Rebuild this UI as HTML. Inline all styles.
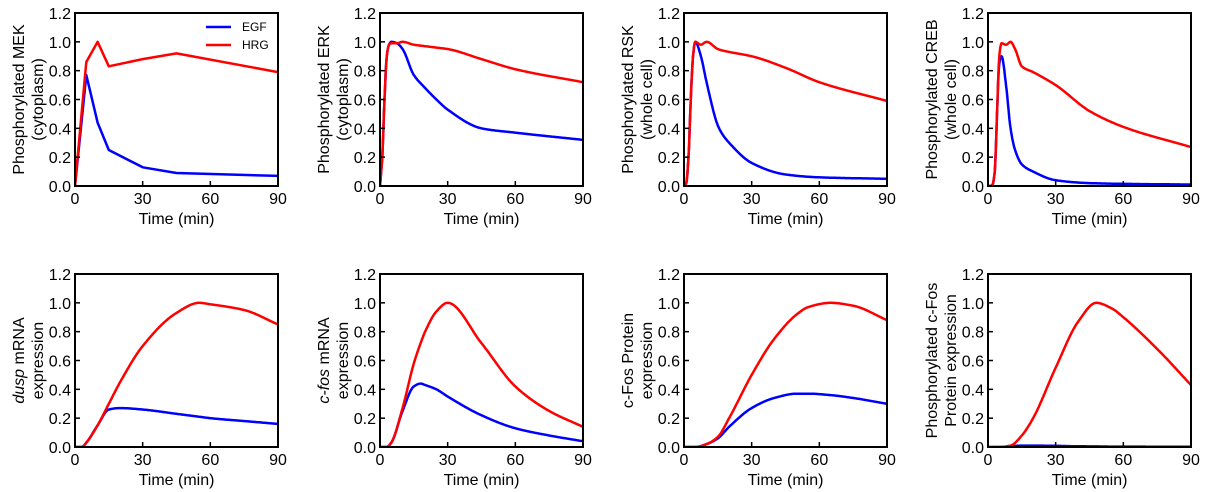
<!DOCTYPE html>
<html><head><meta charset="utf-8"><style>
body{margin:0;background:#fff}
svg{display:block;font-family:"Liberation Sans",Arial,sans-serif}
</style></head><body>
<svg id="c" width="1207" height="492"></svg>
<script>
const mekT=[0,5,10,15,30,45,90];
const mekEGF=[0,0.77,0.44,0.25,0.13,0.09,0.07];
const mekHRG=[0,0.86,1.0,0.83,0.88,0.92,0.79];
const erkT=[0,1,2,3,4,5,7.5,10,15,20,25,30,45,60,90];
const erkEGF=[0,0.2,0.6,0.9,0.98,1.0,0.99,0.95,0.77,0.68,0.6,0.53,0.40,0.37,0.32];
const erkHRG=[0,0.2,0.6,0.9,0.98,0.99,0.99,1.0,0.98,0.97,0.96,0.95,0.88,0.81,0.72];
const rskT=[0,1,2,3,4,5,7.5,10,15,17,20,30,45,60,90];
const rskEGF=[0,0.02,0.2,0.6,0.9,1.0,0.9,0.72,0.42,0.36,0.3,0.16,0.08,0.06,0.05];
const rskHRG=[0,0.02,0.2,0.6,0.9,1.0,0.98,1.0,0.95,0.94,0.93,0.9,0.82,0.72,0.59];
const crebT=[0,1,2,3,4,5,6,8,10,12,15,20,30,45,60,90];
const crebEGF=[0,0,0.01,0.1,0.5,0.85,0.9,0.7,0.4,0.25,0.15,0.1,0.04,0.02,0.015,0.01];
const crebHRG=[0,0,0.01,0.1,0.5,0.9,0.99,0.98,1.0,0.95,0.83,0.79,0.7,0.52,0.41,0.27];
const duspT=[0,3,5,10,15,20,30,45,55,60,75,90];
const duspEGF=[0,0,0.03,0.15,0.26,0.27,0.26,0.23,0.21,0.2,0.18,0.16];
const duspHRG=[0,0,0.03,0.15,0.3,0.45,0.7,0.93,1.0,0.99,0.95,0.85];
const cfosT=[0,3,5,10,15,18,20,25,30,45,60,75,90];
const cfosEGF=[0,0,0.03,0.25,0.42,0.44,0.43,0.4,0.35,0.22,0.13,0.08,0.04];
const cfosHRG=[0,0,0.03,0.27,0.58,0.72,0.8,0.94,1.0,0.72,0.42,0.25,0.14];
const protT=[0,5,10,15,20,30,40,50,55,65,75,90];
const protEGF=[0,0,0.02,0.06,0.14,0.27,0.34,0.37,0.37,0.36,0.34,0.30];
const protHRG=[0,0,0.02,0.07,0.2,0.5,0.75,0.92,0.97,1.0,0.98,0.88];
const pfosT=[0,5,10,15,20,30,40,48,55,60,75,90];
const pfosEGF=[0,0,0.005,0.01,0.01,0.008,0.005,0.004,0.003,0.003,0.002,0.001];
const pfosHRG=[0,0,0.01,0.08,0.2,0.55,0.87,1.0,0.96,0.9,0.68,0.43];
const xTicks=[0,30,60,90];
const yTicks=[0,0.2,0.4,0.6,0.8,1.0,1.2];

const panels=[
 {name:'mek',l:75,t:13,T:mekT,e:mekEGF,h:mekHRG,smooth:false,lab:['Phosphorylated MEK','(cytoplasm)'],legend:true},
 {name:'erk',l:380,t:13,T:erkT,e:erkEGF,h:erkHRG,smooth:true,lab:['Phosphorylated ERK','(cytoplasm)']},
 {name:'rsk',l:684,t:13,T:rskT,e:rskEGF,h:rskHRG,smooth:true,lab:['Phosphorylated RSK','(whole cell)']},
 {name:'creb',l:988,t:13,T:crebT,e:crebEGF,h:crebHRG,smooth:true,lab:['Phosphorylated CREB','(whole cell)']},
 {name:'dusp',l:75,t:274,T:duspT,e:duspEGF,h:duspHRG,smooth:true,lab:['<tspan font-style="italic">dusp</tspan> mRNA','expression']},
 {name:'cfos-mrna',l:380,t:274,T:cfosT,e:cfosEGF,h:cfosHRG,smooth:true,lab:['<tspan font-style="italic">c-fos</tspan> mRNA','expression']},
 {name:'cfos-protein',l:684,t:274,T:protT,e:protEGF,h:protHRG,smooth:true,lab:['c-Fos Protein','expression']},
 {name:'pcfos',l:988,t:274,T:pfosT,e:pfosEGF,h:pfosHRG,smooth:true,lab:['Phosphorylated c-Fos','Protein expression']}
];
const W=203,H=173;
const svg=document.getElementById('c');
let out='';
// monotone cubic (Fritsch-Carlson) interpolation in data space
function monotone(xs,ys){
  const n=xs.length,d=[],m=new Array(n);
  for(let i=0;i<n-1;i++)d.push((ys[i+1]-ys[i])/(xs[i+1]-xs[i]));
  m[0]=d[0];m[n-1]=d[n-2];
  for(let i=1;i<n-1;i++){
    if(d[i-1]*d[i]<=0)m[i]=0;
    else{const h0=xs[i]-xs[i-1],h1=xs[i+1]-xs[i];const w1=2*h1+h0,w2=h1+2*h0;m[i]=(w1+w2)/(w1/d[i-1]+w2/d[i]);}
  }
  return t=>{
    let i=0;while(i<n-2&&t>xs[i+1])i++;
    const h=xs[i+1]-xs[i],s=(t-xs[i])/h;
    const h00=2*s*s*s-3*s*s+1,h10=s*s*s-2*s*s+s,h01=-2*s*s*s+3*s*s,h11=s*s*s-s*s;
    return h00*ys[i]+h10*h*m[i]+h01*ys[i+1]+h11*h*m[i+1];
  };
}
function path(T,V,X,Y,smooth){
  if(!smooth) return 'M'+T.map((t,i)=>X(t).toFixed(1)+','+Y(V[i]).toFixed(1)).join('L');
  const f=monotone(T,V);const pts=[];
  for(let t=T[0];t<=T[T.length-1]+1e-9;t+=0.25)pts.push(X(t).toFixed(1)+','+Y(f(t)).toFixed(1));
  return 'M'+pts.join('L');
}
panels.forEach(P=>{
  const X=t=>P.l+t/90*W, Y=v=>P.t+H-v/1.2*H;
  out+=`<g>`;
  out+=`<clipPath id="cp-${P.name}"><rect x="${P.l}" y="${P.t}" width="${W}" height="${H}"/></clipPath>`;
  out+=`<g clip-path="url(#cp-${P.name})">`;
  out+=`<path d="${path(P.T,P.e,X,Y,P.smooth)}" fill="none" stroke="#0000ff" stroke-width="2.5" stroke-linejoin="round"/>`;
  out+=`<path d="${path(P.T,P.h,X,Y,P.smooth)}" fill="none" stroke="#ff0000" stroke-width="2.5" stroke-linejoin="round"/>`;
  out+=`</g>`;
  out+=`<rect x="${P.l}" y="${P.t}" width="${W}" height="${H}" fill="none" stroke="#000" stroke-width="2"/>`;
  xTicks.forEach(t=>{
    out+=`<line x1="${X(t)}" x2="${X(t)}" y1="${P.t+H}" y2="${P.t+H-5}" stroke="#000" stroke-width="1.5"/>`;
    out+=`<text x="${X(t)}" y="${P.t+H+18}" font-size="16" text-anchor="middle">${t}</text>`;
  });
  yTicks.forEach(v=>{
    out+=`<line x1="${P.l}" x2="${P.l+5}" y1="${Y(v)}" y2="${Y(v)}" stroke="#000" stroke-width="1.5"/>`;
    out+=`<text x="${P.l-4}" y="${Y(v)+6}" font-size="16" text-anchor="end">${v.toFixed(1)}</text>`;
  });
  out+=`<text x="${P.l+W/2}" y="${P.t+H+38}" font-size="16" text-anchor="middle">Time (min)</text>`;
  const cy=P.t+H/2;
  out+=`<text font-size="16" text-anchor="middle" transform="translate(${P.l-51},${cy}) rotate(-90)">${P.lab[0]}</text>`;
  out+=`<text font-size="16" text-anchor="middle" transform="translate(${P.l-32},${cy}) rotate(-90)">${P.lab[1]}</text>`;
  if(P.legend){
    out+=`<g><line x1="206" x2="231" y1="27" y2="27" stroke="#0000ff" stroke-width="2.5"/><text x="242" y="31" font-size="12">EGF</text><line x1="206" x2="231" y1="45" y2="45" stroke="#ff0000" stroke-width="2.5"/><text x="242" y="49" font-size="12">HRG</text></g>`;
  }
  out+=`</g>`;
});
svg.innerHTML=out;
</script>
</body></html>
